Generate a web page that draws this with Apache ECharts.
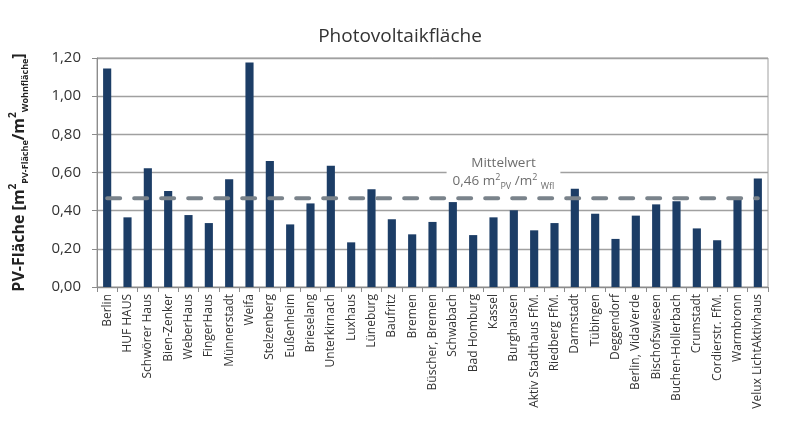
<!DOCTYPE html>
<html><head><meta charset="utf-8">
<script src="https://cdn.jsdelivr.net/npm/echarts@6/dist/echarts.min.js"></script>
<style>html,body{margin:0;padding:0;background:#fff}#c{width:800px;height:426px}</style>
</head><body><div id="c"></div>
<script>
const categories = ["Berlin","HUF HAUS","Schwörer Haus","Bien-Zenker","WeberHaus","FingerHaus","Münnerstadt","Weifa","Stelzenberg","Eußenheim","Brieselang","Unterkirnach","Luxhaus","Lüneburg","Baufritz","Bremen","Büscher, Bremen","Schwabach","Bad Homburg","Kassel","Burghausen","Aktiv Stadthaus FfM.","Riedberg FfM.","Darmstadt","Tübingen","Deggendorf","Berlin, VidaVerde","Bischofswiesen","Buchen-Hollerbach","Crumstadt","Cordierstr. FfM.","Warmbronn","Velux LichtAktivhaus"];
const pvValues = [1.145,0.365,0.622,0.503,0.377,0.335,0.564,1.176,0.660,0.328,0.438,0.636,0.234,0.512,0.355,0.276,0.341,0.445,0.272,0.365,0.402,0.297,0.335,0.515,0.384,0.252,0.374,0.433,0.449,0.307,0.245,0.460,0.568];
const meanValue = 0.465;
const meanLabelCategory = "Kassel";
const meanLabelValue = 0.60;
const yTicks = {min: 0, max: 1.2, interval: 0.2};

const font = "'Open Sans', 'Noto Sans', sans-serif";
const chart = echarts.init(document.getElementById('c'), null, {renderer: 'canvas'});
chart.setOption({
  animation: false,
  backgroundColor: '#fff',
  title: {
    text: 'Photovoltaikfläche', left: 'center', top: 22,
    textStyle: {fontFamily: font, fontSize: 19, fontWeight: 'normal', color: '#333'}
  },
  grid: {left: 90, right: 32, top: 58, bottom: 139, show: true, borderColor: '#a0a0a0', borderWidth: 1},
  xAxis: {
    type: 'category', data: categories, boundaryGap: true,
    axisLine: {lineStyle: {color: '#8c8c8c', width: 1}},
    axisTick: {show: true, alignWithLabel: false, length: 5, lineStyle: {color: '#8c8c8c'}},
    axisLabel: {rotate: 90, interval: 0, fontFamily: font, fontSize: 12, color: '#333', margin: 7}
  },
  yAxis: {
    type: 'value', min: yTicks.min, max: yTicks.max, interval: yTicks.interval,
    axisLine: {show: true, lineStyle: {color: '#8c8c8c'}},
    axisTick: {show: true, length: 5, lineStyle: {color: '#8c8c8c'}},
    splitLine: {lineStyle: {color: '#a0a0a0', width: 1.3}},
    axisLabel: {fontFamily: font, fontSize: 15, color: '#333', margin: 16,
      formatter: v => v.toFixed(2).replace('.', ',')},
    name: '{b|PV-Fläche [m}{sup|2}{sub|PV-Fläche}{b|/m}{sup|2}{sub|Wohnfläche}{b|]}',
    nameLocation: 'middle', nameGap: 67,
    nameTextStyle: {
      rich: {
        b: {fontFamily: font, fontSize: 16, fontWeight: 'bold', color: '#222', lineHeight: 22, verticalAlign: 'middle'},
        sup: {fontFamily: font, fontSize: 10, fontWeight: 'bold', color: '#222', verticalAlign: 'top', padding: [0,0,6,0]},
        sub: {fontFamily: font, fontSize: 9, fontWeight: 'bold', color: '#222', verticalAlign: 'bottom', padding: [8,0,0,0]}
      }
    }
  },
  series: [
    {
      type: 'bar', data: pvValues, barWidth: '40%',
      itemStyle: {color: '#1c3d66'}
    },
    {
      type: 'line', data: categories.map(() => meanValue), symbol: 'none', z: 5,
      lineStyle: {color: '#7a838b', width: 4, type: [13, 14], cap: 'round'},
      markPoint: {
        symbol: 'rect', symbolSize: 0,
        data: [{coord: [meanLabelCategory, meanLabelValue]}],
        label: {
          show: true, position: 'inside', offset: [10, 0],
          backgroundColor: '#fff', padding: [3, 6, 3, 6],
          formatter: '{m|Mittelwert}\n{t|0,46 m}{sup|2}{sub|PV}{t| /m}{sup|2}{t| }{sub|Wfl}',
          rich: {
            m: {fontFamily: font, fontSize: 13.5, color: '#6e6e6e', align: 'center', lineHeight: 18},
            t: {fontFamily: font, fontSize: 13.5, color: '#6e6e6e', lineHeight: 18},
            sup: {fontFamily: font, fontSize: 9, color: '#6e6e6e', verticalAlign: 'top', padding: [0,0,4,0]},
            sub: {fontFamily: font, fontSize: 9, color: '#6e6e6e', verticalAlign: 'bottom', padding: [6,0,0,0]}
          }
        }
      }
    }
  ]
});
</script></body></html>
